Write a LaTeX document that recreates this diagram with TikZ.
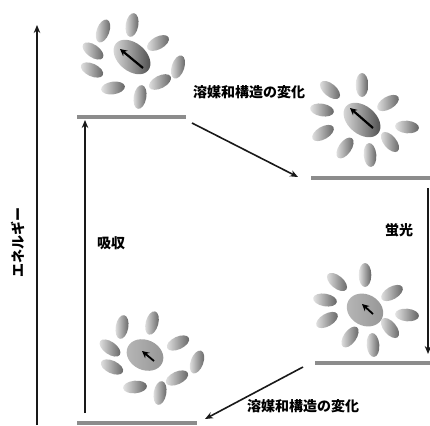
\documentclass[tikz,border=0pt]{standalone}
\usepackage{fontspec}
\newfontfamily\jpfont{Noto Sans CJK JP}
\usetikzlibrary{arrows.meta}

\begin{document}
\begin{tikzpicture}[x=1pt, y=-1pt,
    level/.style={line width=4pt, black!45},
    trans/.style={line width=1.6pt, black!90, -{Stealth[length=8pt, width=6.5pt]}},
    solv/.style={left color=black!10, right color=black!62},
    dipole/.style={line width=2.2pt, -{Stealth[length=7pt, width=7pt]}},
    lbl/.style={font=\jpfont\bfseries\fontsize{14}{14}\selectfont}]
    \useasboundingbox (0,0) rectangle (430,425);

    % energy axis
    \coordinate (eLow) at (37,425);
    \coordinate (eHigh) at (37,25);
    \draw[trans, line width=1.4pt] (eLow) -- (eHigh);
    \node[lbl, rotate=90] (energy) at (18,242) {エネルギー};

    % levels
    \draw[level] (77,117) coordinate (up1L) -- (186,117) coordinate (up1R);
    \draw[level] (311,178) coordinate (up2L) -- (430,178) coordinate (up2R);
    \draw[level] (315,363) coordinate (gr2L) -- (430,363) coordinate (gr2R);
    \draw[level] (77,423) coordinate (gr1L) -- (197,423) coordinate (gr1R);

    % transitions
    \coordinate (absFrom) at (85,413);
    \coordinate (absTo) at (85,120);
    \draw[trans] (absFrom) -- (absTo);
    \node[lbl] (absorb) at (111,243) {吸収};

    \coordinate (relaxFrom) at (192,123);
    \coordinate (relaxTo) at (298,177);
    \draw[trans] (relaxFrom) -- (relaxTo);
    \node[lbl] (relaxA) at (249,92) {溶媒和構造の変化};

    \coordinate (fluoFrom) at (428,188);
    \coordinate (fluoTo) at (428,354);
    \draw[trans] (fluoFrom) -- (fluoTo);
    \node[lbl] (fluo) at (399,230) {蛍光};

    \coordinate (backFrom) at (303,367);
    \coordinate (backTo) at (205,419);
    \draw[trans] (backFrom) -- (backTo);
    \node[lbl] (relaxB) at (303,406) {溶媒和構造の変化};

    % solvated molecule, excited (Franck-Condon)
    \shade[left color=black!12, right color=black!72, rotate around={-40:(132,57)}] (132,57) ellipse (21pt and 14pt);
    \foreach \x/\y/\a in {103/31/70, 132/25/80, 158/43/28, 178/67/72, 160/82/27,
                          140/97/80, 113/88/8, 92/70/-25, 93/51/-35}
        \shade[solv, rotate around={\a:(\x,\y)}] (\x,\y) ellipse (12pt and 6.3pt);
    \draw[dipole] (143,68) -- (120,49);

    % solvated molecule, excited (relaxed)
    \shade[left color=black!12, right color=black!72, rotate around={-40:(362,120)}] (362,120) ellipse (21pt and 14pt);
    \foreach \x/\y/\a in {362/85/90, 330/90/-40, 322/110/-10, 323/133/30, 345/148/55,
                          370/155/95, 390/142/-50, 407/127/-5, 388/103/30}
        \shade[solv, rotate around={\a:(\x,\y)}] (\x,\y) ellipse (12pt and 6.3pt);
    \draw[dipole] (373,128) -- (350,108);

    % solvated molecule, ground (relaxed)
    \shade[left color=black!28, right color=black!42, rotate around={-30:(365,310)}] (365,310) ellipse (19pt and 15.5pt);
    \foreach \x/\y/\a in {365/275/90, 337/282/-40, 325/300/-10, 327/320/30, 350/337/55,
                          373/345/95, 390/328/-50, 407/315/-5, 392/293/30}
        \shade[solv, rotate around={\a:(\x,\y)}] (\x,\y) ellipse (12pt and 6.3pt);
    \draw[dipole, line width=1.8pt] (373,314) -- (362,304);

    % solvated molecule, ground (equilibrium)
    \shade[left color=black!28, right color=black!42, rotate around={-25:(145,355)}] (145,355) ellipse (19pt and 15pt);
    \foreach \x/\y/\a in {122/327/80, 152/323/75, 178/343/25, 197/362/70, 177/378/25,
                          160/393/80, 135/387/5, 112/367/-25, 110/348/-35}
        \shade[solv, rotate around={\a:(\x,\y)}] (\x,\y) ellipse (12pt and 6.3pt);
    \draw[dipole, line width=1.8pt] (154,361) -- (142,351);
\end{tikzpicture}
\end{document}
